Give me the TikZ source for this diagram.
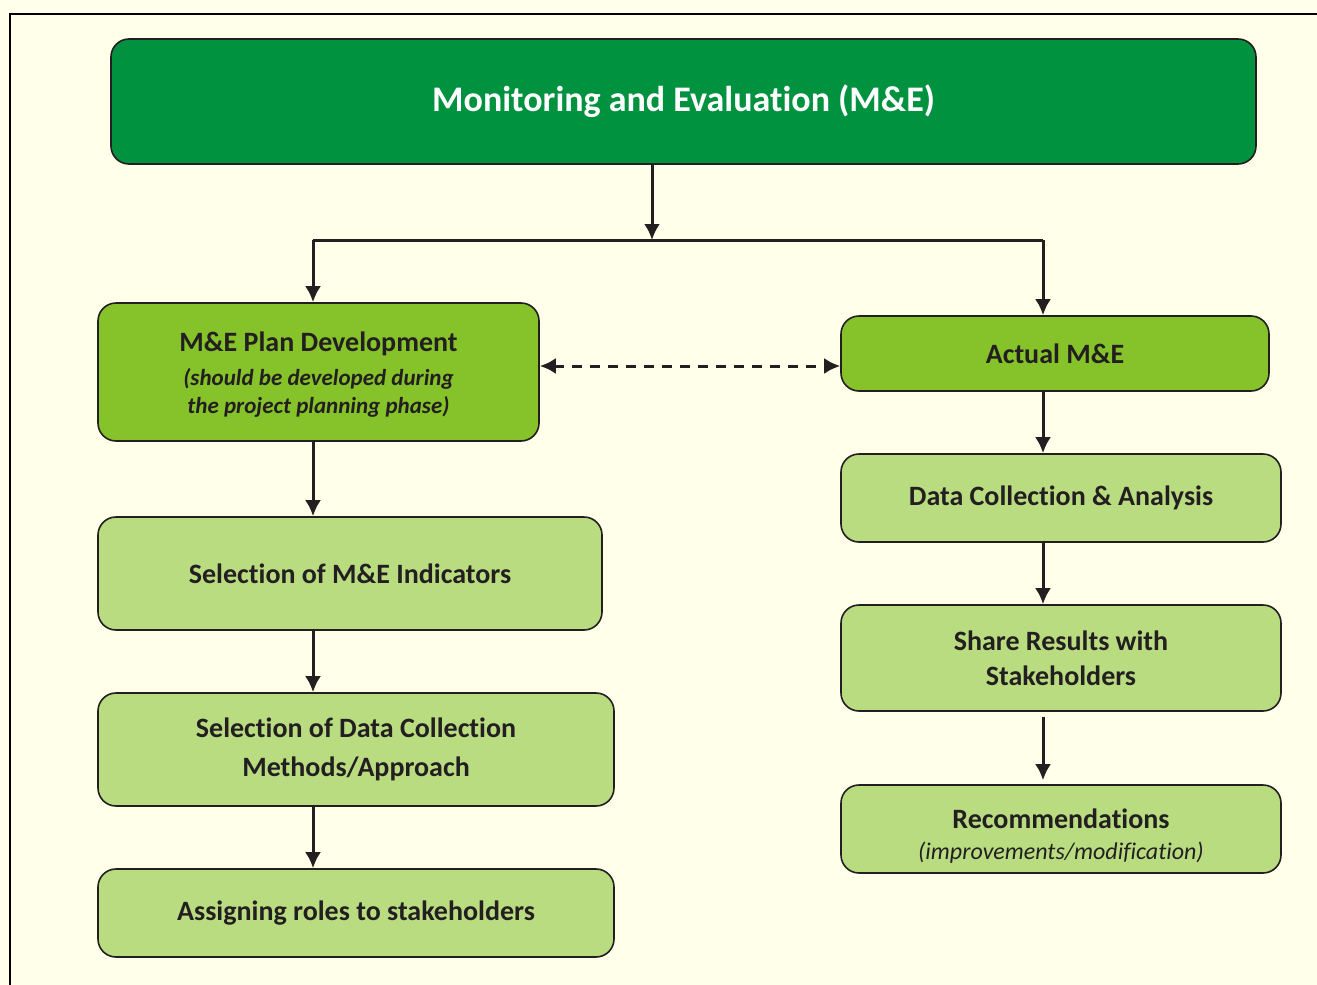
\documentclass[tikz,border=0pt]{standalone}
\usepackage{fontspec}
\setmainfont{Carlito}[Ligatures={NoCommon,NoContextual}]
\usepackage{xcolor}
\usetikzlibrary{arrows.meta}
\definecolor{mebg}{HTML}{FFFFEA}
\definecolor{medark}{HTML}{00923F}
\definecolor{memid}{HTML}{86C22A}
\definecolor{melight}{HTML}{B9DC80}
\definecolor{metext}{HTML}{231F20}

\begin{document}
\begin{tikzpicture}[x=1pt,y=-1pt,
    mebox/.style={draw=metext,line width=1.6pt,rounded corners=18pt,align=center,
        inner sep=0pt,text=metext,font=\bfseries\fontsize{28}{35}\selectfont},
    link/.style={draw=metext,line width=3pt,-{Latex[length=16pt,width=16pt]}},
    plain/.style={draw=metext,line width=3pt}]
    	\useasboundingbox (0,0) rectangle (1317,985);
    	\fill[mebg] (0,0) rectangle (1317,985);
    	\draw[line width=1.8pt] (1317,14) -- (10,14) -- (10,985);
    	% top
    	\node[mebox,fill=medark,text=white,minimum width=1145,minimum height=125,
    	    font=\bfseries\fontsize{36}{40}\selectfont] (top) at (683.5,101.5) {Monitoring and Evaluation (M\&E)};
    	% left column
    	\node[mebox,fill=memid,minimum width=441,minimum height=138] (plan) at (318.5,372) {};
    	\node[text=metext,align=center,inner sep=0pt,font=\bfseries\fontsize{28}{35}\selectfont] (plantxt) at ([yshift=-3pt]plan.center)
    	    {M\&E Plan Development\\[-1pt]
    	    {\itshape\fontsize{23}{28}\selectfont (should be developed during}\\[-7pt]
    	    {\itshape\fontsize{23}{28}\selectfont the project planning phase)}};
    	\node[mebox,fill=melight,minimum width=504,minimum height=113] (ind) at (350,573.5) {Selection of M\&E Indicators};
    	\node[mebox,fill=melight,minimum width=516,minimum height=113] (meth) at (356,749.5)
    	    {Selection of Data Collection\\[4pt]Methods/Approach};
    	\node[mebox,fill=melight,minimum width=516,minimum height=88] (roles) at (356,913) {Assigning roles to stakeholders};
    	% right column
    	\node[mebox,fill=memid,minimum width=428,minimum height=75] (actual) at (1055,353.5) {Actual M\&E};
    	\node[mebox,fill=melight,minimum width=440,minimum height=88] (dca) at (1061,498) {Data Collection \& Analysis};
    	\node[mebox,fill=melight,minimum width=440,minimum height=106] (share) at (1061,658)
    	    {Share Results with\\Stakeholders};
    	\node[mebox,fill=melight,minimum width=440,minimum height=88] (rec) at (1061,829) {};
    	\node[text=metext,align=center,inner sep=0pt,font=\bfseries\fontsize{28}{35}\selectfont] (rectxt) at ([yshift=-7pt]rec.center)
    	    {Recommendations\\[-4pt]{\mdseries\itshape\fontsize{24}{28}\selectfont (improvements/modification)}};
    	% connectors
    	\coordinate (split) at (652,240);
    	\coordinate (lcol) at (313,240);
    	\coordinate (rcol) at (1043,240);
    	\draw[link] (top.south -| split) -- (split);
    	\draw[plain] (lcol) -- (rcol);
    	\draw[link] (lcol) -- (lcol |- plan.north);
    	\draw[link] (rcol) -- (rcol |- actual.north);
    	\draw[link] (plan.south -| lcol) -- (ind.north -| lcol);
    	\draw[link] (ind.south -| lcol) -- (meth.north -| lcol);
    	\draw[link] (meth.south -| lcol) -- (roles.north -| lcol);
    	\draw[link] (actual.south -| rcol) -- (dca.north -| rcol);
    	\draw[link] (dca.south -| rcol) -- (share.north -| rcol);
    	\draw[link,shorten <=5pt,shorten >=4pt] (share.south -| rcol) -- (rec.north -| rcol);
    	\draw[link,{Latex[length=16pt,width=16pt]}-{Latex[length=16pt,width=16pt]},dash pattern=on 10pt off 8pt]
    	    (plan.east |- 0,366) -- (actual.west |- 0,366);
    	\end{tikzpicture}
\end{document}
